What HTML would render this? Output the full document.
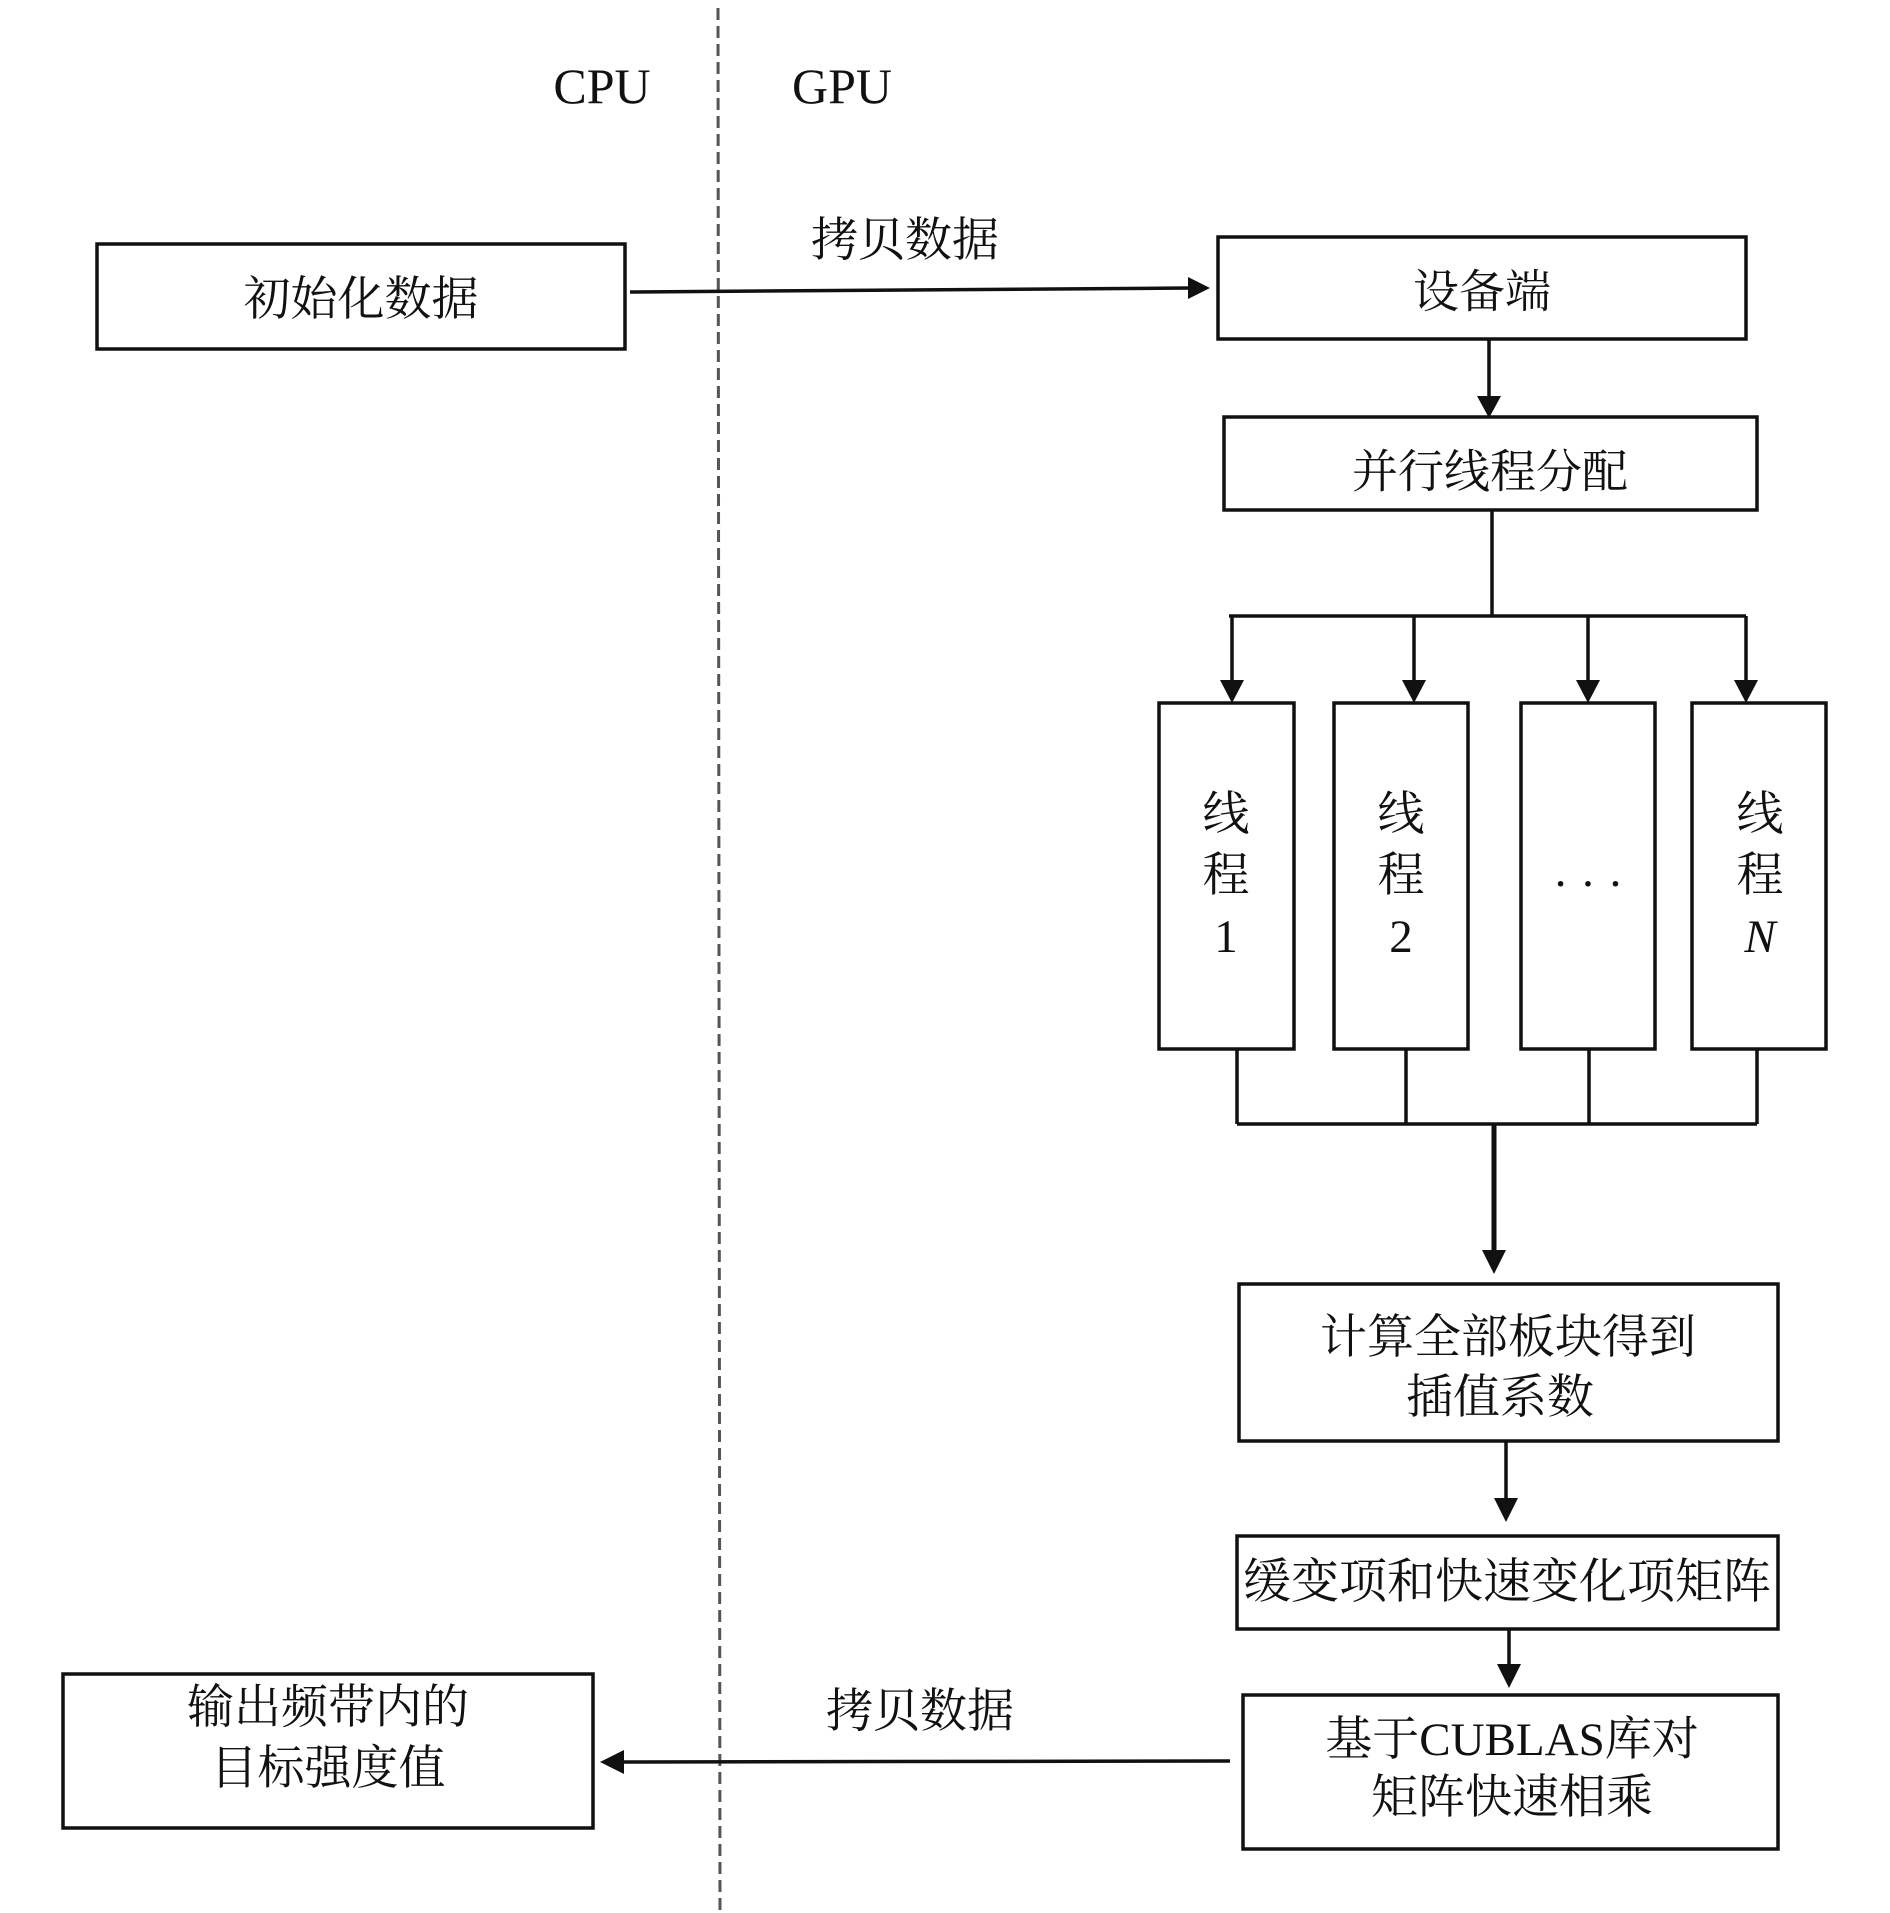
<!DOCTYPE html>
<html><head><meta charset="utf-8"><style>
html,body{margin:0;padding:0;background:#fff;}
svg{display:block;}
text{font-family:"Liberation Serif","Noto Serif CJK SC","Noto Sans CJK SC",serif;fill:#111;}
</style></head><body>
<svg width="1890" height="1913" viewBox="0 0 1890 1913" xmlns="http://www.w3.org/2000/svg">
<defs>
<marker id="ah" markerWidth="10" markerHeight="10" refX="9" refY="5" orient="auto" markerUnits="userSpaceOnUse" viewBox="0 0 10 10">
</marker>
</defs>
<g stroke="#111" stroke-width="3.5" fill="none">
<!-- dashed divider -->
<line x1="718" y1="8" x2="720" y2="1913" stroke="#555" stroke-width="3" stroke-dasharray="12,6"/>
<!-- boxes -->
<rect x="97" y="244" width="528" height="105"/>
<rect x="1218" y="237" width="528" height="102"/>
<rect x="1224" y="417" width="533" height="93"/>
<rect x="1159" y="703" width="135" height="346"/>
<rect x="1334" y="703" width="134" height="346"/>
<rect x="1521" y="703" width="134" height="346"/>
<rect x="1692" y="703" width="134" height="346"/>
<rect x="1239" y="1284" width="539" height="157"/>
<rect x="1237" y="1536" width="541" height="93"/>
<rect x="1243" y="1695" width="535" height="154"/>
<rect x="63" y="1674" width="530" height="154"/>
<!-- connectors -->
<line x1="630" y1="292" x2="1190" y2="288"/>
<line x1="1489" y1="339" x2="1489" y2="400"/>
<line x1="1492" y1="510" x2="1492" y2="616"/>
<line x1="1229" y1="616" x2="1746" y2="616"/>
<line x1="1232" y1="616" x2="1232" y2="686"/>
<line x1="1414" y1="616" x2="1414" y2="686"/>
<line x1="1588" y1="616" x2="1588" y2="686"/>
<line x1="1746" y1="616" x2="1746" y2="686"/>
<line x1="1237" y1="1049" x2="1237" y2="1124"/>
<line x1="1406" y1="1049" x2="1406" y2="1124"/>
<line x1="1589" y1="1049" x2="1589" y2="1124"/>
<line x1="1757" y1="1049" x2="1757" y2="1124"/>
<line x1="1237" y1="1124" x2="1757" y2="1124"/>
<line x1="1494" y1="1124" x2="1494" y2="1255" stroke-width="5"/>
<line x1="1506" y1="1441" x2="1506" y2="1502"/>
<line x1="1509" y1="1629" x2="1509" y2="1668"/>
<line x1="1230" y1="1761" x2="620" y2="1762"/>
</g>
<g fill="#111">
<polygon points="1210,288 1188,277 1188,299"/>
<polygon points="1489,418 1477,396 1501,396"/>
<polygon points="1232,703 1220,680 1244,680"/>
<polygon points="1414,703 1402,680 1426,680"/>
<polygon points="1588,703 1576,680 1600,680"/>
<polygon points="1746,703 1734,680 1758,680"/>
<polygon points="1494,1274 1482,1250 1506,1250"/>
<polygon points="1506,1522 1494,1498 1518,1498"/>
<polygon points="1509,1688 1497,1664 1521,1664"/>
<polygon points="600,1762 624,1750 624,1774"/>
</g>
<g font-size="47" text-anchor="middle" dominant-baseline="central">
<text x="602" y="86" font-size="50">CPU</text>
<text x="842" y="86" font-size="50">GPU</text>
<text x="905" y="241">拷贝数据</text>
<text x="361" y="300">初始化数据</text>
<text x="1482" y="292" font-size="46">设备端</text>
<text x="1490" y="472" font-size="46">并行线程分配</text>
<text x="1226" y="815">线</text><text x="1226" y="876">程</text><text x="1226" y="937">1</text>
<text x="1401" y="815">线</text><text x="1401" y="876">程</text><text x="1401" y="937">2</text>
<text x="1588" y="884">· · ·</text>
<text x="1760" y="815">线</text><text x="1760" y="876">程</text><text x="1760" y="937" font-style="italic">N</text>
<text x="1508" y="1338">计算全部板块得到</text>
<text x="1500" y="1398">插值系数</text>
<text x="1507" y="1582" font-size="48" textLength="528" lengthAdjust="spacingAndGlyphs">缓变项和快速变化项矩阵</text>
<text x="1512" y="1740">基于CUBLAS库对</text>
<text x="1512" y="1798">矩阵快速相乘</text>
<text x="920" y="1712">拷贝数据</text>
<text x="328" y="1708">输出频带内的</text>
<text x="328" y="1769">目标强度值</text>
</g>
</svg>
</body></html>
